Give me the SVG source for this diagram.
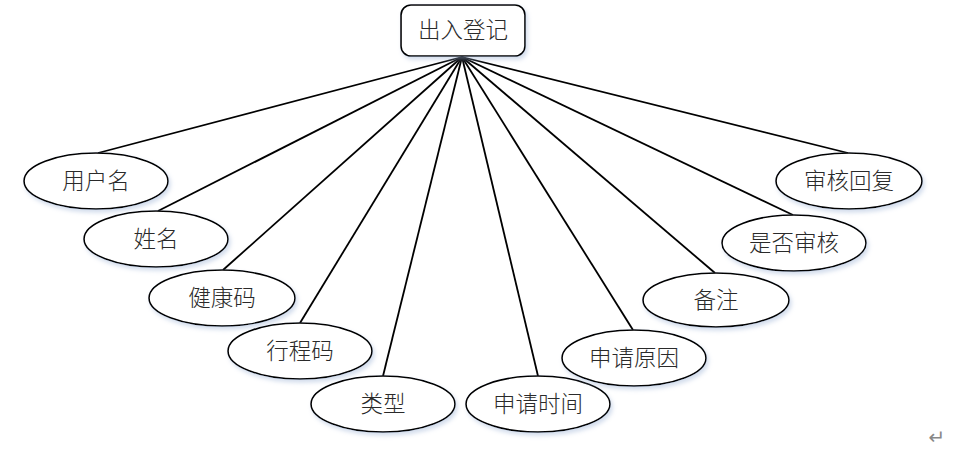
<svg xmlns="http://www.w3.org/2000/svg" width="980" height="452" viewBox="0 0 980 452">
<defs>
<filter id="sh" x="-10%" y="-20%" width="125%" height="150%">
<feDropShadow dx="2" dy="3" stdDeviation="2" flood-color="#9db4d6" flood-opacity="0.45"/>
</filter>
<style>
.n ellipse,.n rect{fill:#fff;stroke:#000;stroke-width:1.6;filter:url(#sh)}
.n text{font-family:"Noto Sans CJK SC","Liberation Sans",sans-serif;font-size:22.5px;font-weight:300;fill:#2a2a2a;text-anchor:middle}
#edges line{stroke:#000;stroke-width:1.8}
</style>
</defs>
<rect width="980" height="452" fill="#fff"/>
<g id="edges">
<line x1="462" y1="57" x2="98" y2="153"/>
<line x1="462" y1="57" x2="158" y2="211"/>
<line x1="462" y1="57" x2="223" y2="270"/>
<line x1="462" y1="57" x2="300" y2="323"/>
<line x1="462" y1="57" x2="383" y2="376"/>
<line x1="462" y1="57" x2="538" y2="376"/>
<line x1="462" y1="57" x2="633" y2="330"/>
<line x1="462" y1="57" x2="715" y2="273"/>
<line x1="462" y1="57" x2="793" y2="215"/>
<line x1="462" y1="57" x2="848" y2="153"/>
</g>
<g id="n0" class="n"><rect x="401" y="5" width="124" height="51" rx="10" ry="10"/><text x="463" y="38">出入登记</text></g>
<g id="n1" class="n"><ellipse cx="96" cy="181" rx="72" ry="28"/><text x="96" y="189">用户名</text></g>
<g id="n2" class="n"><ellipse cx="156" cy="239" rx="72" ry="28"/><text x="156" y="247">姓名</text></g>
<g id="n3" class="n"><ellipse cx="222" cy="298" rx="73" ry="28"/><text x="222" y="306">健康码</text></g>
<g id="n4" class="n"><ellipse cx="300" cy="351" rx="72" ry="28"/><text x="300" y="359">行程码</text></g>
<g id="n5" class="n"><ellipse cx="383" cy="404" rx="72" ry="28"/><text x="383" y="412">类型</text></g>
<g id="n6" class="n"><ellipse cx="538" cy="404" rx="72" ry="28"/><text x="538" y="412">申请时间</text></g>
<g id="n7" class="n"><ellipse cx="634" cy="358" rx="72" ry="28"/><text x="634" y="366">申请原因</text></g>
<g id="n8" class="n"><ellipse cx="716" cy="300" rx="73" ry="27"/><text x="716" y="308">备注</text></g>
<g id="n9" class="n"><ellipse cx="794" cy="243" rx="72" ry="28"/><text x="794" y="251">是否审核</text></g>
<g id="n10" class="n"><ellipse cx="849" cy="181" rx="73" ry="28"/><text x="849" y="189">审核回复</text></g>
<text x="937" y="444" font-family="DejaVu Sans,sans-serif" font-size="20" fill="#888" text-anchor="middle">↵</text>
</svg>
